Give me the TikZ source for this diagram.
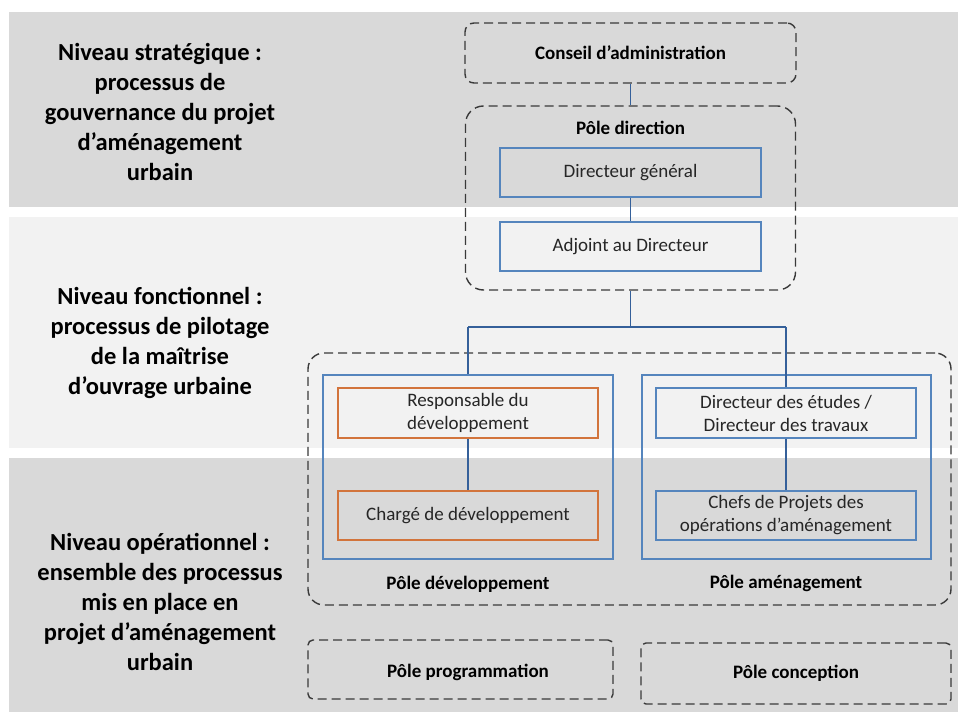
\documentclass[tikz,border=0pt]{standalone}
\usepackage{fontspec}
\setmainfont{Carlito}
\definecolor{banddark}{HTML}{D9D9D9}
\definecolor{bandlight}{HTML}{F2F2F2}
\definecolor{bluec}{HTML}{5585BD}
\definecolor{connc}{HTML}{35609A}
\definecolor{orangec}{HTML}{D2743C}
\definecolor{dashc}{HTML}{3A3A3A}
\definecolor{txtc}{HTML}{262626}
\tikzset{
  lvl/.style={font=\fontsize{24.5}{30}\selectfont\bfseries, align=center, text=black},
  dbox/.style={draw=dashc, dash pattern=on 9pt off 5pt, line width=1.4pt, inner sep=0pt},
  bbox/.style={draw=bluec, line width=1.2pt, inner sep=0pt, align=center, text=txtc,
    font=\fontsize{19}{23}\selectfont},
  obox/.style={bbox, draw=orangec},
  blab/.style={font=\fontsize{19}{22}\selectfont\bfseries, text=black},
  conn/.style={draw=connc, line width=1.8pt},
}
\begin{document}
\begin{tikzpicture}[x=1pt,y=-1pt]
\useasboundingbox (0,0) rectangle (958,722);
\fill[white] (0,0) rectangle (958,722);
% bands
\fill[banddark] (9,12) rectangle (958,207);
\fill[bandlight] (9,217) rectangle (958,448);
\fill[banddark] (9,458) rectangle (958,712);
% level labels
\node[lvl] (lv1) at (160,112) {Niveau stratégique :\\processus de\\gouvernance du projet\\d’aménagement\\urbain};
\node[lvl] (lv2) at (160,343) {Niveau fonctionnel :\\processus de pilotage\\de la maîtrise\\d’ouvrage urbaine};
\node[lvl] (lv3) at (160,602) {Niveau opérationnel :\\ensemble des processus\\mis en place en\\projet d’aménagement\\urbain};
% strategic
\node[dbox, rounded corners=9pt, minimum width=331pt, minimum height=60pt, blab] (ca) at (630.5,53) {Conseil d’administration};
\node[dbox, rounded corners=18pt, minimum width=330pt, minimum height=184pt] (pdir) at (630.5,198) {};
\node[blab] (pdirlab) at (630.5,128) {Pôle direction};
\node[bbox, minimum width=261pt, minimum height=49pt] (dg) at (630.5,172.5) {Directeur général};
\node[bbox, minimum width=261pt, minimum height=49pt] (adj) at (630.5,246.5) {Adjoint au Directeur};
% operational group
\node[dbox, rounded corners=16pt, minimum width=643pt, minimum height=252pt] (grp) at (629.5,479) {};
\node[draw=bluec, line width=1.2pt, inner sep=0pt, minimum width=290pt, minimum height=184pt] (pdev) at (468,467) {};
\node[draw=bluec, line width=1.2pt, inner sep=0pt, minimum width=289pt, minimum height=184pt] (pam) at (786.5,467) {};
\node[obox, minimum width=260pt, minimum height=50pt] (resp) at (468,413) {Responsable du\\développement};
\node[obox, minimum width=260pt, minimum height=49pt] (charg) at (468,515.5) {Chargé de développement};
\node[bbox, minimum width=260pt, minimum height=50pt] (dirEt) at (786,413) {Directeur des études /\\Directeur des travaux};
\node[bbox, minimum width=260pt, minimum height=49pt] (chefs) at (786,515.5) {Chefs de Projets des\\opérations d’aménagement};
\node[blab] (pdevlab) at (468,584) {Pôle développement};
\node[blab] (pamlab) at (786,583) {Pôle aménagement};
% bottom poles
\node[dbox, rounded corners=5pt, minimum width=305pt, minimum height=59pt] (pprog) at (460.5,669.5) {};
\node[blab] (pproglab) at (468,672) {Pôle programmation};
\node[dbox, rounded corners=5pt, minimum width=310pt, minimum height=61pt, blab] (pconc) at (796,673.5) {Pôle conception};
% connectors
\coordinate (jn) at (630.5,327);
\coordinate (jl) at (468,327);
\coordinate (jr) at (786,327);
\draw[conn] (ca.south) -- (pdir.north);
\draw[conn] (dg.south) -- (adj.north);
\draw[conn] (pdir.south) -- (jn);
\draw[conn] (jl) -- (jr);
\draw[conn] (jl) -- (pdev.north);
\draw[conn] (jr) -- (dirEt.north);
\draw[conn] (resp.south) -- (charg.north);
\draw[conn] (dirEt.south) -- (chefs.north);
\end{tikzpicture}
\end{document}
